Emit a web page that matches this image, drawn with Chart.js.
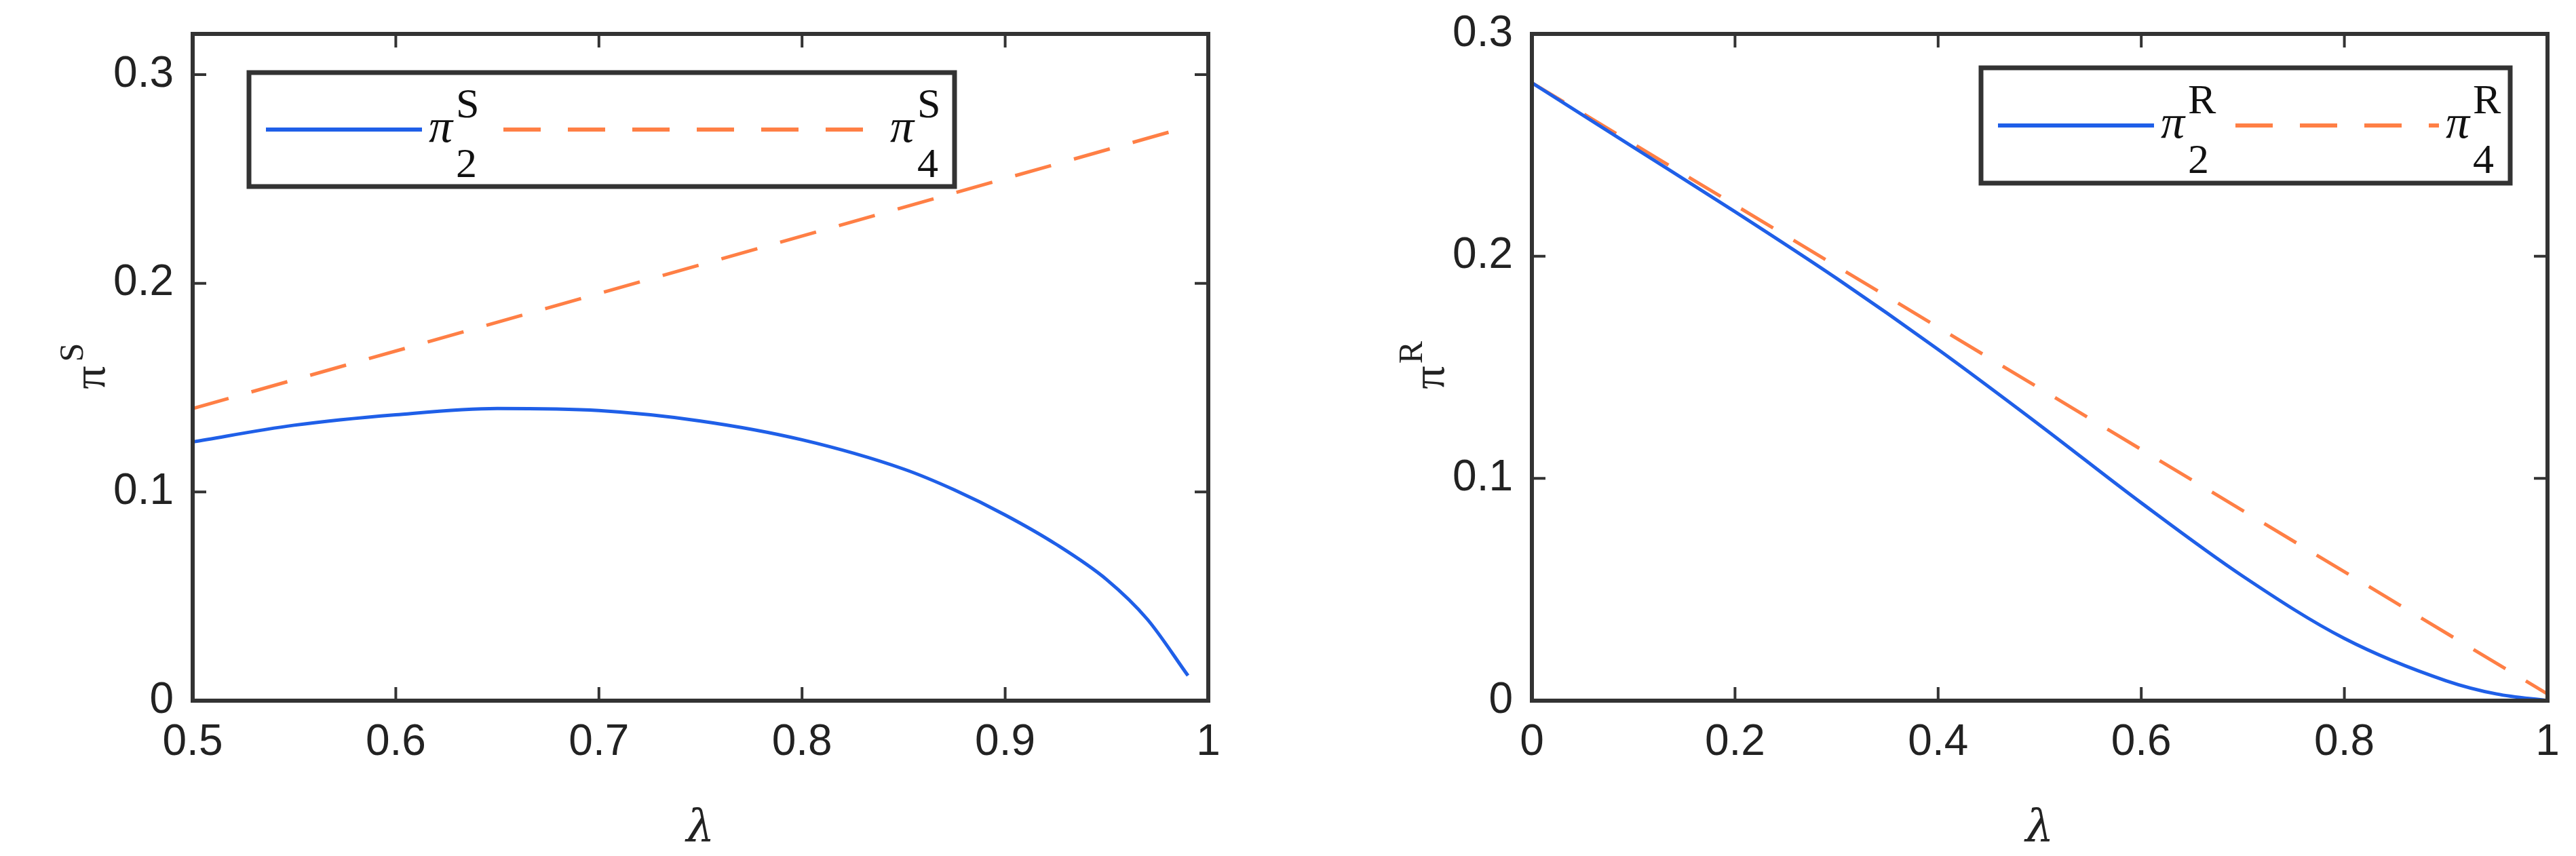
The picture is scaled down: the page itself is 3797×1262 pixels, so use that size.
<!DOCTYPE html>
<html>
<head>
<meta charset="utf-8">
<script src="https://cdn.jsdelivr.net/npm/chart.js@4"></script>
<style>
  body { margin: 0; background: #fff; }
  canvas { position: absolute; left: 0; top: 0; }
</style>
</head>
<body>
<canvas id="left" width="3797" height="1262"></canvas>
<canvas id="right" width="3797" height="1262"></canvas>
<script>
// 左圖：π^S 對 λ
const lambdaS = [0.5, 0.55, 0.6, 0.65, 0.7, 0.75, 0.8, 0.85, 0.875, 0.9, 0.925, 0.95, 0.97, 0.99];
const pi2S = [0.124, 0.132, 0.137, 0.140, 0.139, 0.134, 0.125, 0.111, 0.101, 0.089, 0.075, 0.058, 0.039, 0.012];
const lambdaS4 = [0.5, 0.99];
const pi4S = [0.140, 0.275];
const ticksXS = [0.5, 0.6, 0.7, 0.8, 0.9, 1];
const ticksYS = [0, 0.1, 0.2, 0.3];

// 右圖：π^R 對 λ
const lambdaR = [0, 0.1, 0.2, 0.3, 0.4, 0.5, 0.6, 0.7, 0.8, 0.9, 0.95, 1];
const pi2R = [0.278, 0.249, 0.220, 0.190, 0.158, 0.124, 0.089, 0.056, 0.028, 0.009, 0.003, 0];
const lambdaR4 = [0, 1];
const pi4R = [0.278, 0.003];
const ticksXR = [0, 0.2, 0.4, 0.6, 0.8, 1];
const ticksYR = [0, 0.1, 0.2, 0.3];

const BLUE = '#1f5fe8';
const ORANGE = '#ff7f45';
const AXIS = '#333333';

function pts(xs, ys) { return xs.map((x, i) => ({ x: x, y: ys[i] })); }

// 畫 MATLAB 風格的外框、刻度、標籤與圖例
function matlabPlugin(cfg) {
  return {
    id: 'matlab',
    afterDraw(chart) {
      const c = chart.ctx, a = chart.chartArea;
      const sx = chart.scales.x, sy = chart.scales.y;
      c.save();
      c.strokeStyle = AXIS; c.lineWidth = 6;
      c.strokeRect(a.left, a.top, a.right - a.left, a.bottom - a.top);
      c.lineWidth = 4;
      c.fillStyle = '#222';
      c.font = '64px "Liberation Sans", Arial, sans-serif';
      c.textAlign = 'center'; c.textBaseline = 'top';
      cfg.xt.forEach(v => {
        const px = sx.getPixelForValue(v);
        c.beginPath(); c.moveTo(px, a.bottom); c.lineTo(px, a.bottom - 20);
        c.moveTo(px, a.top); c.lineTo(px, a.top + 20); c.stroke();
        c.fillText(String(v), px, a.bottom + 30);
      });
      c.textAlign = 'right'; c.textBaseline = 'middle';
      cfg.yt.forEach(v => {
        const py = sy.getPixelForValue(v);
        c.beginPath(); c.moveTo(a.left, py); c.lineTo(a.left + 20, py);
        c.moveTo(a.right, py); c.lineTo(a.right - 20, py); c.stroke();
        c.fillText(String(v), a.left - 28, py);
      });
      // 軸標題
      c.font = 'italic 66px "DejaVu Serif", serif';
      c.textAlign = 'center'; c.textBaseline = 'alphabetic';
      c.fillText('λ', (a.left + a.right) / 2, 1240);
      c.save();
      c.translate(a.left - 150, (a.top + a.bottom) / 2);
      c.rotate(-Math.PI / 2);
      c.font = '68px "Liberation Serif", serif';
      c.fillText('π', -15, 20);
      c.font = '50px "Liberation Serif", serif';
      c.fillText(cfg.sup, 22, -12);
      c.restore();
      // 圖例
      const L = cfg.legend;
      c.fillStyle = '#fff';
      c.fillRect(L.x, L.y, L.w, L.h);
      c.strokeStyle = AXIS; c.lineWidth = 7;
      c.strokeRect(L.x, L.y, L.w, L.h);
      const my = L.y + L.h / 2;
      const label = (x0, sub) => {
        c.fillStyle = '#111'; c.textAlign = 'left';
        c.font = 'italic 70px "Liberation Serif", serif';
        c.fillText('π', x0, my + 18);
        c.font = '62px "Liberation Serif", serif';
        c.fillText(cfg.sup, x0 + 40, my - 18);
        c.fillText(sub, x0 + 40, my + 70);
      };
      // 實線項目
      c.strokeStyle = BLUE; c.lineWidth = 6;
      c.beginPath(); c.moveTo(L.x + 25, my); c.lineTo(L.x + 255, my); c.stroke();
      label(L.x + 265, '2');
      // 虛線項目（標籤靠右）
      const x4 = L.x + L.w - 95;
      c.strokeStyle = ORANGE; c.setLineDash([55, 40]);
      c.beginPath(); c.moveTo(L.x + 375, my); c.lineTo(x4 - 10, my); c.stroke();
      c.setLineDash([]);
      label(x4, '4');
      c.restore();
    }
  };
}

function makeChart(id, xs, y2, xs4, y4, cfg) {
  return new Chart(document.getElementById(id).getContext('2d'), {
    type: 'line',
    data: {
      datasets: [
        { data: pts(xs, y2), borderColor: BLUE, borderWidth: 5, pointRadius: 0, cubicInterpolationMode: 'monotone' },
        { data: pts(xs4, y4), borderColor: ORANGE, borderWidth: 5, borderDash: [55, 35], pointRadius: 0 }
      ]
    },
    options: {
      responsive: false, animation: false,
      layout: { padding: cfg.pad },
      plugins: { legend: { display: false }, tooltip: { enabled: false } },
      scales: {
        x: { type: 'linear', min: cfg.xmin, max: 1, display: false },
        y: { type: 'linear', min: 0, max: cfg.ymax, display: false }
      }
    },
    plugins: [matlabPlugin(cfg)]
  });
}

makeChart('left', lambdaS, pi2S, lambdaS4, pi4S, {
  xmin: 0.5, ymax: 0.3195, xt: ticksXS, yt: ticksYS, sup: 'S',
  pad: { left: 284, top: 50, right: 3797 - 1781, bottom: 1262 - 1033 },
  legend: { x: 367, y: 107, w: 1040, h: 168 }
});
makeChart('right', lambdaR, pi2R, lambdaR4, pi4R, {
  xmin: 0, ymax: 0.3, xt: ticksXR, yt: ticksYR, sup: 'R',
  pad: { left: 2258, top: 50, right: 3797 - 3755, bottom: 1262 - 1033 },
  legend: { x: 2920, y: 100, w: 780, h: 170 }
});
</script>
</body>
</html>
